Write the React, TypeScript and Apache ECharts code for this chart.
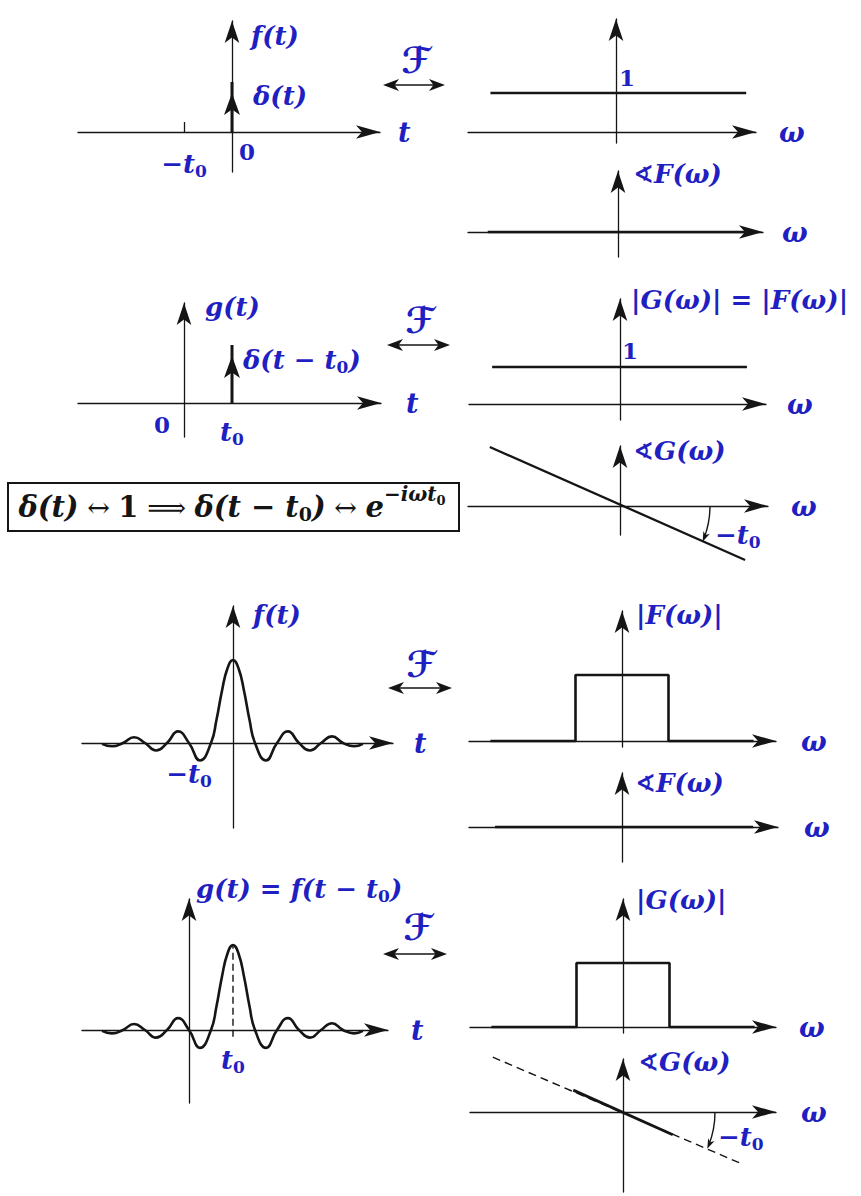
import { useEffect, useRef } from 'react';
import * as echarts from 'echarts';

// Shift used throughout, in units of the pulse's zero spacing
const T0 = 2;

// Unit impulse δ(t) and the shifted impulse δ(t − t0)
const DELTA_F: number[][] = [[0, 0], [0, 1]];
const DELTA_G: number[][] = [[T0, 0], [T0, 1]];

// Spectra of the impulses: flat magnitude 1, zero / linear phase
const MAG_DELTA_F: number[][] = [[-2.7, 1], [2.8, 1]];
const PHASE_DELTA_F: number[][] = [[-2.8, 0], [2.8, 0]];
const MAG_DELTA_G: number[][] = [[-2.75, 1], [2.73, 1]];
const PHASE_DELTA_G: number[][] = [[-2.8, 1.27], [2.69, -1.16]];

// Band-limited pulse f(t): zeros, extrema and main-lobe flanks
const PULSE_T = [-5.95, -5.5, -5, -4.5, -4, -3.5, -3, -2.5, -2, -1.5, -1, -0.75, -0.5, -0.25, 0,
  0.25, 0.5, 0.75, 1, 1.5, 2, 2.5, 3, 3.5, 4, 4.5, 5, 5.5, 5.9];
const PULSE_F = [-0.01, -0.04, 0, 0.07, 0, -0.09, 0, 0.14, 0, -0.21, 0, 0.28, 0.63, 0.9, 1,
  0.9, 0.63, 0.28, 0, -0.21, 0, 0.14, 0, -0.09, 0, 0.08, 0, -0.04, -0.01];

// Rectangular magnitude spectrum |F(ω)| = |G(ω)|
const RECT_W = [-2.83, -1, -1, 1, 1, 2.83];
const RECT_MAG = [0, 0, 1, 1, 0, 0];
const PHASE_PULSE_F: number[][] = [[-2.73, 0], [2.82, 0]];
const PHASE_PULSE_G_FULL: number[][] = [[-2.8, 1.18], [2.52, -1.1]];
const PHASE_PULSE_G_BAND: number[][] = [[-1.07, 0.47], [1.07, -0.49]];

const BLUE = '#1f1fc2';
const INK = '#151515';
const SERIF = '"DejaVu Serif", "Liberation Serif", serif';
const SCRIPT = '"DejaVu Sans", "DejaVu Serif", serif';
const AXIS_W = 1.3;
const CURVE_W = 2.6;
const X_ARROW = [10, 24];
const Y_ARROW = [11, 22];
const DELTA_ARROW = [12, 22];

interface Panel {
  ox: number; oy: number; sx: number; sy: number;
  left: number; tipX: number; tipY: number; bottom: number;
  axis: string; nameLeft: number; ticks?: number[];
}

const PANELS: Panel[] = [
  { ox: 232, oy: 132, sx: 24, sy: 50, left: 78, tipX: 392, tipY: 10, bottom: 172, axis: 't', nameLeft: 398, ticks: [-T0] },
  { ox: 616, oy: 132, sx: 46.5, sy: 39, left: 468, tipX: 768, tipY: 8, bottom: 143, axis: 'ω', nameLeft: 779 },
  { ox: 618, oy: 232, sx: 46.5, sy: 46.5, left: 468, tipX: 775, tipY: 160, bottom: 257, axis: 'ω', nameLeft: 782 },
  { ox: 184, oy: 403, sx: 24, sy: 58, left: 78, tipX: 393, tipY: 292, bottom: 437, axis: 't', nameLeft: 406 },
  { ox: 620, oy: 404, sx: 46.5, sy: 37, left: 469, tipX: 778, tipY: 288, bottom: 420, axis: 'ω', nameLeft: 787 },
  { ox: 620, oy: 506, sx: 46.5, sy: 46.5, left: 468, tipX: 780, tipY: 435, bottom: 535, axis: 'ω', nameLeft: 791 },
  { ox: 233, oy: 743, sx: 22, sy: 83, left: 82, tipX: 405, tipY: 595, bottom: 828, axis: 't', nameLeft: 414 },
  { ox: 622, oy: 741, sx: 46.5, sy: 66, left: 469, tipX: 788, tipY: 600, bottom: 747, axis: 'ω', nameLeft: 801 },
  { ox: 622, oy: 827, sx: 46.5, sy: 46.5, left: 469, tipX: 790, tipY: 762, bottom: 862, axis: 'ω', nameLeft: 804 },
  { ox: 189, oy: 1030, sx: 22, sy: 85, left: 82, tipX: 400, tipY: 888, bottom: 1103, axis: 't', nameLeft: 411 },
  { ox: 623, oy: 1027, sx: 46.5, sy: 64, left: 470, tipX: 788, tipY: 888, bottom: 1033, axis: 'ω', nameLeft: 799 },
  { ox: 623, oy: 1112, sx: 46.5, sy: 46.5, left: 470, tipX: 788, tipY: 1048, bottom: 1192, axis: 'ω', nameLeft: 801 },
];

const toPx = (p: Panel, x: number, y: number): [number, number] => [p.ox + x * p.sx, p.oy - y * p.sy];

const LABEL_RICH = {
  m: { fontFamily: SERIF, fontSize: 26, fontWeight: 'bold', fontStyle: 'italic', fill: BLUE },
  u: { fontFamily: SERIF, fontSize: 23, fontWeight: 'bold', fill: BLUE },
  a: { fontFamily: SCRIPT, fontSize: 25, fontWeight: 'bold', fill: BLUE },
  s: { fontFamily: SERIF, fontSize: 17, fontWeight: 'bold', fill: BLUE, padding: [13, 0, 0, 0] },
};

const FORMULA_RICH = {
  m: { fontFamily: SERIF, fontSize: 29, fontWeight: 'bold', fontStyle: 'italic', fill: INK },
  n: { fontFamily: SERIF, fontSize: 29, fontWeight: 'bold', fill: INK },
  r: { fontFamily: SERIF, fontSize: 27, fill: INK },
  s: { fontFamily: SERIF, fontSize: 19, fontWeight: 'bold', fill: INK, padding: [14, 0, 0, 0] },
  e: { fontFamily: SERIF, fontSize: 20, fontWeight: 'bold', fontStyle: 'italic', fill: INK, padding: [0, 0, 26, 0] },
  es: { fontFamily: SERIF, fontSize: 13, fontWeight: 'bold', fill: INK, padding: [0, 0, 14, 0] },
};

function label(x: number, y: number, text: string, align = 'left') {
  return {
    type: 'text', x, y, z: 20, silent: true,
    style: {
      text, rich: LABEL_RICH, fill: BLUE, fontFamily: SERIF, fontSize: 26, fontWeight: 'bold', fontStyle: 'italic',
      align, verticalAlign: 'middle', textAlign: align, textVerticalAlign: 'middle',
    },
  };
}

function head(tip: number[], dir: number[], len: number, half: number) {
  const [dx, dy] = dir;
  const nx = -dy;
  const ny = dx;
  const bx = tip[0] - dx * len;
  const by = tip[1] - dy * len;
  return [
    [tip[0], tip[1]],
    [bx + nx * half, by + ny * half],
    [tip[0] - dx * len * 0.72, tip[1] - dy * len * 0.72],
    [bx - nx * half, by - ny * half],
  ];
}

// ℱ over a double-headed arrow between the time and frequency columns
function fourierPair(cx: number, cy: number, ay: number, x1: number, x2: number) {
  return [
    {
      type: 'text', x: cx, y: cy, z: 20, silent: true,
      style: {
        text: 'ℱ', fill: BLUE, fontFamily: SCRIPT, fontSize: 36, fontWeight: 'bold', fontStyle: 'italic',
        align: 'center', verticalAlign: 'middle', textAlign: 'center', textVerticalAlign: 'middle',
      },
    },
    { type: 'line', silent: true, shape: { x1: x1 + 8, y1: ay, x2: x2 - 8, y2: ay }, style: { stroke: INK, lineWidth: 1.6 } },
    { type: 'polygon', silent: true, shape: { points: head([x1, ay], [-1, 0], 16, 6) }, style: { fill: INK } },
    { type: 'polygon', silent: true, shape: { points: head([x2, ay], [1, 0], 16, 6) }, style: { fill: INK } },
  ];
}

// Arc from the ω axis down to the phase line, marking its slope −t0
function slopeArc(p: Panel, end: number[], r: number) {
  const [ex, ey] = toPx(p, end[0], end[1]);
  const theta = Math.atan2(ey - p.oy, ex - p.ox);
  const tip = [p.ox + r * Math.cos(theta), p.oy + r * Math.sin(theta)];
  const dir = [-Math.sin(theta), Math.cos(theta)];
  return [
    {
      type: 'arc', silent: true,
      shape: { cx: p.ox, cy: p.oy, r, startAngle: 0, endAngle: theta - 0.04, clockwise: true },
      style: { stroke: INK, lineWidth: 1.4, fill: 'none' },
    },
    { type: 'polygon', silent: true, shape: { points: head(tip, dir, 10, 3.5) }, style: { fill: INK } },
  ];
}

function buildOption() {
  const grids = PANELS.map((p) => {
    const right = p.tipX - X_ARROW[1] / 2;
    const top = p.tipY + Y_ARROW[1] / 2;
    return { left: p.left, top, width: right - p.left, height: p.bottom - top, containLabel: false, outerBoundsMode: 'none' };
  });

  const xAxes = PANELS.map((p, i) => {
    const right = p.tipX - X_ARROW[1] / 2;
    return {
      type: 'value', gridIndex: i,
      min: (p.left - p.ox) / p.sx, max: (right - p.ox) / p.sx,
      axisLine: { onZero: true, symbol: ['none', 'arrow'], symbolSize: X_ARROW, lineStyle: { color: INK, width: AXIS_W } },
      axisTick: p.ticks
        ? { show: true, customValues: p.ticks, inside: true, length: 10, lineStyle: { color: INK, width: AXIS_W } }
        : { show: false },
      axisLabel: { show: false },
      splitLine: { show: false },
      name: p.axis, nameLocation: 'end', nameGap: p.nameLeft - right,
      nameTextStyle: { color: BLUE, fontFamily: SERIF, fontSize: 27, fontWeight: 'bold', fontStyle: 'italic' },
    };
  });

  const yAxes = PANELS.map((p, i) => {
    const top = p.tipY + Y_ARROW[1] / 2;
    return {
      type: 'value', gridIndex: i,
      min: (p.oy - p.bottom) / p.sy, max: (p.oy - top) / p.sy,
      axisLine: { onZero: true, symbol: ['none', 'arrow'], symbolSize: Y_ARROW, lineStyle: { color: INK, width: AXIS_W } },
      axisTick: { show: false },
      axisLabel: { show: false },
      splitLine: { show: false },
    };
  });

  const line = (i: number, data: any[], extra: any = {}) => ({
    type: 'line', xAxisIndex: i, yAxisIndex: i, data, silent: true, symbol: 'none', z: 3, clip: false,
    lineStyle: { color: INK, width: CURVE_W }, itemStyle: { color: INK }, ...extra,
  });

  const impulse = (i: number, pts: number[][]) => line(i, [{ value: pts[0], symbol: 'none' }, pts[1]], {
    symbol: 'arrow', symbolSize: DELTA_ARROW, symbolOffset: [0, '50%'], showSymbol: true,
    lineStyle: { color: INK, width: 3 },
  });

  const pulseF = PULSE_T.map((t, k) => [t, PULSE_F[k]]);
  const pulseG = PULSE_T.map((t, k) => [t + T0, PULSE_F[k]]);
  const rect = RECT_W.map((w, k) => [w, RECT_MAG[k]]);

  const series = [
    impulse(0, DELTA_F),
    line(1, MAG_DELTA_F),
    line(2, PHASE_DELTA_F),
    impulse(3, DELTA_G),
    line(4, MAG_DELTA_G),
    line(5, PHASE_DELTA_G, { lineStyle: { color: INK, width: 2.3 } }),
    line(6, pulseF, { smooth: true }),
    line(7, rect),
    line(8, PHASE_PULSE_F),
    line(9, pulseG, { smooth: true }),
    line(9, [[T0, -0.08], [T0, 1]], { lineStyle: { color: INK, width: 1.4, type: [7, 4] }, z: 2 }),
    line(10, rect),
    line(11, PHASE_PULSE_G_FULL, { lineStyle: { color: INK, width: 1.4, type: [8, 5] } }),
    line(11, PHASE_PULSE_G_BAND, { lineStyle: { color: INK, width: 2.8 } }),
  ];

  const [A, B, C, D, E, F, G, H, I, J, L, K] = PANELS;
  const one = (p: Panel, mag: number[][], dx: number, dy: number) => {
    const [x, y] = toPx(p, 0, mag[0][1]);
    return label(x + dx, y + dy, '{u|1}', 'center');
  };
  const atT = (p: Panel, t: number, y: number, text: string) => label(toPx(p, t, 0)[0], y, text, 'center');

  const elements: any[] = [
    // impulse pair
    label(251, 36, '{m|f(t)}'),
    label(253, 96, '{m|δ(t)}'),
    label(A.ox + 15, 151, '{u|0}', 'center'),
    atT(A, -T0, 164, '{m|−t}{s|0}'),
    one(B, MAG_DELTA_F, 11, -16),
    label(633, 174, '{a|∢}{m|F(ω)}'),
    label(205, 307, '{m|g(t)}'),
    label(243, 360, '{m|δ(t − t}{s|0}{m|)}'),
    label(D.ox - 22, 424, '{u|0}', 'center'),
    atT(D, T0, 432, '{m|t}{s|0}'),
    label(631, 300, '{m||G(ω)| = |F(ω)|}'),
    one(E, MAG_DELTA_G, 10, -17),
    label(633, 451, '{a|∢}{m|G(ω)}'),
    label(715, 535, '{m|−t}{s|0}'),
    // band-limited pulse pair
    label(253, 615, '{m|f(t)}'),
    atT(G, -T0, 774, '{m|−t}{s|0}'),
    label(636, 615, '{m||F(ω)|}'),
    label(635, 783, '{a|∢}{m|F(ω)}'),
    label(196, 889, '{m|g(t) = f(t − t}{s|0}{m|)}'),
    atT(J, T0, 1060, '{m|t}{s|0}'),
    label(636, 900, '{m||G(ω)|}'),
    label(638, 1062, '{a|∢}{m|G(ω)}'),
    label(718, 1137, '{m|−t}{s|0}'),
    ...fourierPair(416, 60, 85, 383, 445),
    ...fourierPair(420, 320, 345, 387, 450),
    ...fourierPair(421, 664, 688, 388, 452),
    ...fourierPair(418, 927, 954, 383, 447),
    ...slopeArc(F, PHASE_DELTA_G[1], 90),
    ...slopeArc(K, PHASE_PULSE_G_FULL[1], 92),
    {
      type: 'rect', silent: true, z: 5,
      shape: { x: 8, y: 483, width: 451, height: 48 },
      style: { fill: '#ffffff', stroke: INK, lineWidth: 2 },
    },
    {
      type: 'text', x: 232, y: 507, z: 21, silent: true,
      style: {
        text: '{m|δ(t)}{r| ↔ }{n|1}{r| ⟹ }{m|δ(t − t}{s|0}{m|)}{r| ↔ }{m|e}{e|−iωt}{es|0}',
        rich: FORMULA_RICH, fill: INK, fontFamily: SERIF, fontSize: 29,
        align: 'center', verticalAlign: 'middle', textAlign: 'center', textVerticalAlign: 'middle',
      },
    },
  ];

  return {
    animation: false,
    backgroundColor: '#ffffff',
    grid: grids,
    xAxis: xAxes,
    yAxis: yAxes,
    series,
    graphic: { elements },
  };
}

export default function App() {
  const ref = useRef<HTMLDivElement>(null);
  useEffect(() => {
    if (!ref.current) return;
    const chart = echarts.init(ref.current, undefined, { renderer: 'svg' });
    chart.setOption(buildOption() as any);
    return () => chart.dispose();
  }, []);
  return (
    <div
      ref={ref}
      style={{ position: 'absolute', left: 0, top: 0, width: 861, height: 1196, background: '#fff' }}
    />
  );
}
